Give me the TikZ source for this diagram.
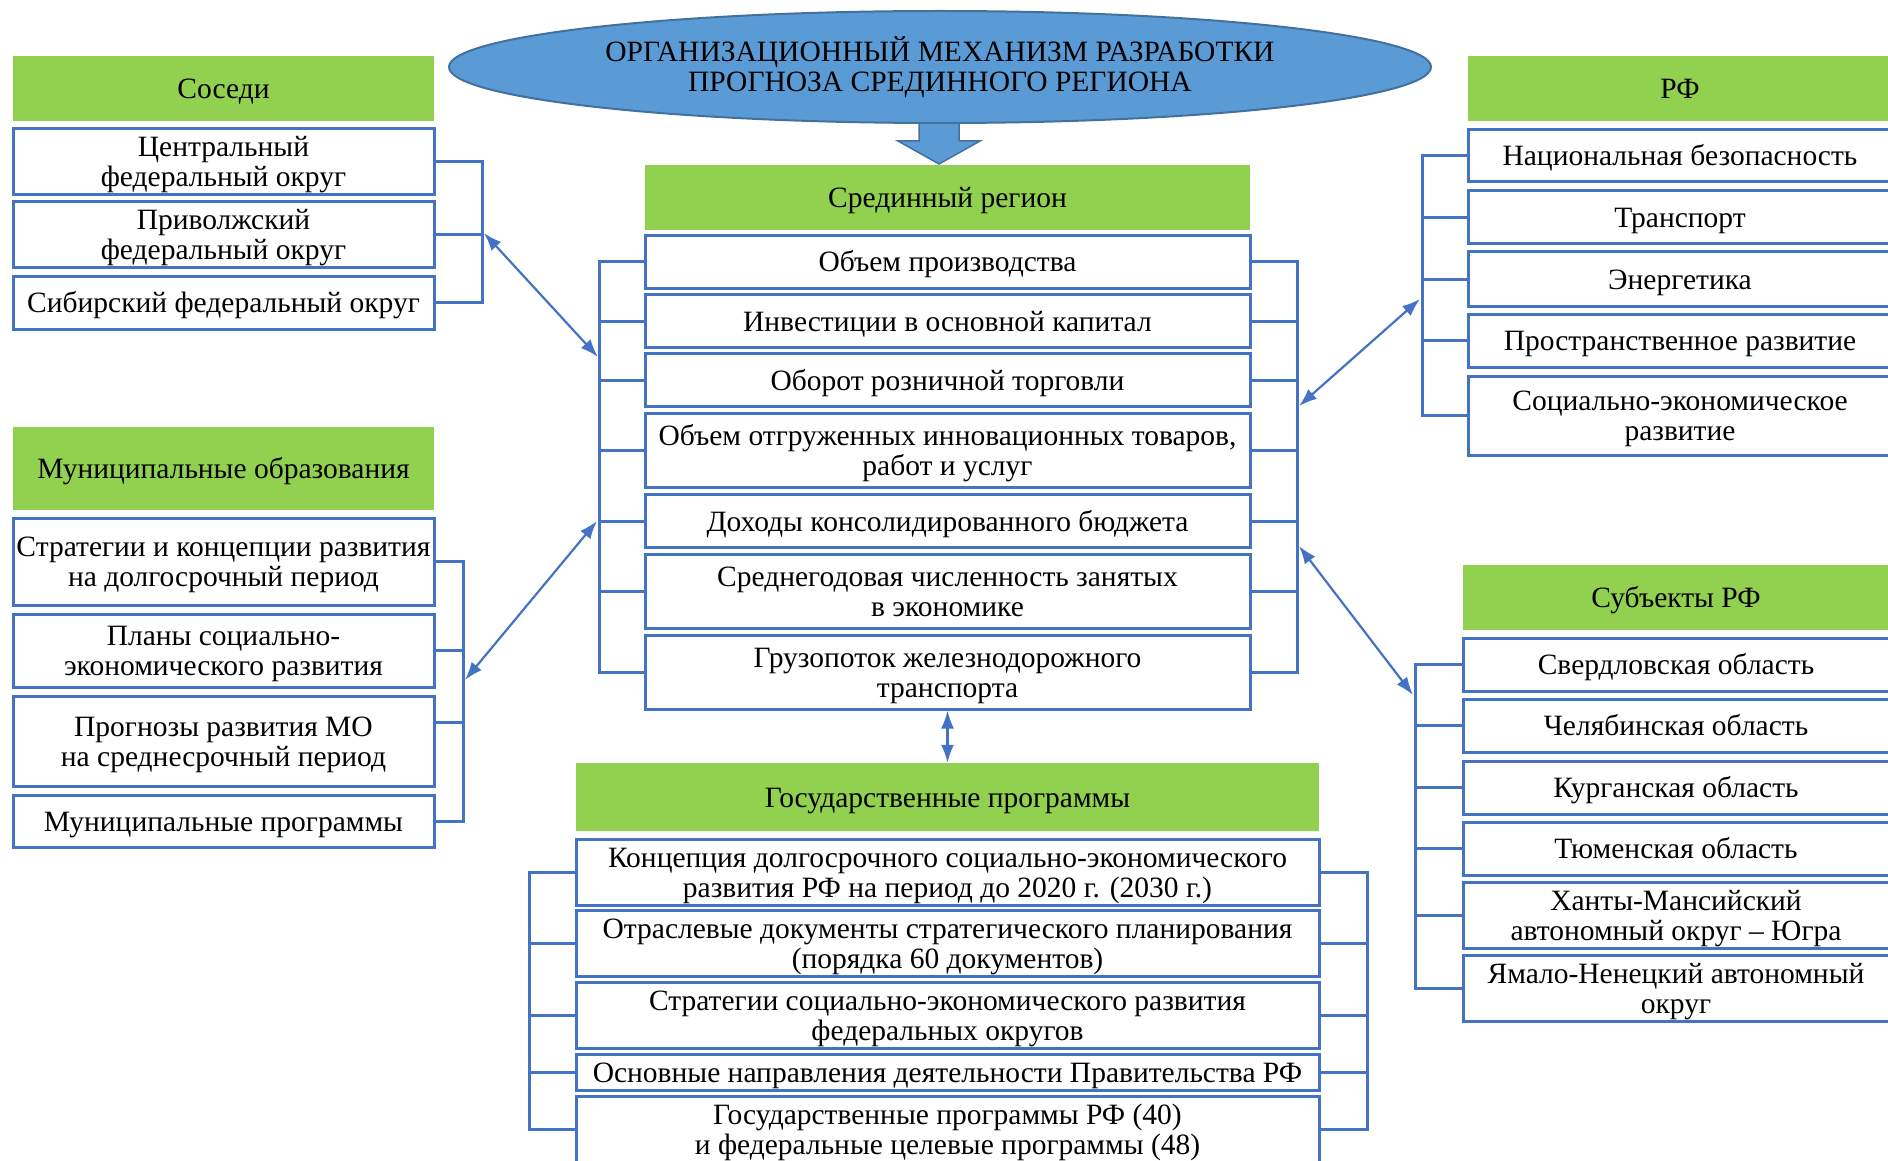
\documentclass[tikz,border=0pt]{standalone}
\usepackage{fontspec}
\setmainfont{Liberation Serif}
\usetikzlibrary{arrows.meta,shapes.geometric,calc}
\definecolor{hgreen}{HTML}{92D050}
\definecolor{bbd}{HTML}{4472C4}
\definecolor{efill}{HTML}{5B9BD5}
\definecolor{ebd}{HTML}{41719C}
\newcommand\mystrut{\rule{0pt}{28pt}}
\begin{document}
\begin{tikzpicture}[x=1pt,y=-1pt,
  every node/.style={font=\fontsize{29.5}{30}\selectfont, inner sep=0pt, align=center,
    execute at begin node={\rule{0pt}{28pt}},
    execute at end node={\rule[-8pt]{0pt}{8pt}}},
  hdr/.style={fill=hgreen, draw=none},
  itm/.style={fill=white, draw=bbd, line width=3pt},
  conn/.style={draw=bbd, line width=3pt},
  dbl/.style={draw=bbd, line width=2.2pt, {Latex[length=18pt,width=13pt]}-{Latex[length=18pt,width=13pt]}}
]
\useasboundingbox (0,0) rectangle (1888,1161);
\clip (0,0) rectangle (1888,1161);

% block arrow under the title
\draw[fill=efill, draw=ebd, line width=1.5pt] (919,105) -- (959,105) -- (959,141) -- (980,141) -- (939,164) -- (898,141) -- (919,141) -- cycle;
\node[ellipse, fill=efill, draw=ebd, line width=2pt, minimum width=982pt, minimum height=112pt] (title) at (940,67)
  {\mystrut ОРГАНИЗАЦИОННЫЙ МЕХАНИЗМ РАЗРАБОТКИ\\ПРОГНОЗА СРЕДИННОГО РЕГИОНА};

% Соседи
\node[hdr, minimum width=421pt, minimum height=65pt] (s0) at (223.5,88.5) {Соседи};
\node[itm, minimum width=421pt, minimum height=64pt] (s1) at (223.5,162) {\mystrut Центральный\\федеральный округ};
\node[itm, minimum width=421pt, minimum height=64pt] (s2) at (223.5,235) {\mystrut Приволжский\\федеральный округ};
\node[itm, minimum width=421pt, minimum height=53pt] (s3) at (223.5,302.5) {Сибирский федеральный округ};

% Муниципальные образования
\node[hdr, minimum width=421pt, minimum height=83pt] (m0) at (223.5,468.5) {Муниципальные образования};
\node[itm, minimum width=421pt, minimum height=87pt] (m1) at (223.5,561.5) {\mystrut Стратегии и концепции развития\\на долгосрочный период};
\node[itm, minimum width=421pt, minimum height=73pt] (m2) at (223.5,650.5) {\mystrut Планы социально-\\экономического развития};
\node[itm, minimum width=421pt, minimum height=90pt] (m3) at (223.5,741) {\mystrut Прогнозы развития МО\\на среднесрочный период};
\node[itm, minimum width=421pt, minimum height=52pt] (m4) at (223.5,821) {Муниципальные программы};

% Срединный регион
\node[hdr, minimum width=605pt, minimum height=65pt] (c0) at (947.5,197.5) {Срединный регион};
\node[itm, minimum width=605pt, minimum height=53pt] (c1) at (947.5,262) {Объем производства};
\node[itm, minimum width=605pt, minimum height=53pt] (c2) at (947.5,321) {Инвестиции в основной капитал};
\node[itm, minimum width=605pt, minimum height=53pt] (c3) at (947.5,380) {Оборот розничной торговли};
\node[itm, minimum width=605pt, minimum height=74pt] (c4) at (947.5,450) {\mystrut Объем отгруженных инновационных товаров,\\работ и услуг};
\node[itm, minimum width=605pt, minimum height=53pt] (c5) at (947.5,521) {Доходы консолидированного бюджета};
\node[itm, minimum width=605pt, minimum height=74pt] (c6) at (947.5,591) {\mystrut Среднегодовая численность занятых\\в экономике};
\node[itm, minimum width=605pt, minimum height=74pt] (c7) at (947.5,672) {\mystrut Грузопоток железнодорожного\\транспорта};

% РФ
\node[hdr, minimum width=424pt, minimum height=65pt] (r0) at (1680,88.5) {РФ};
\node[itm, minimum width=424pt, minimum height=52pt] (r1) at (1680,156) {Национальная безопасность};
\node[itm, minimum width=424pt, minimum height=53pt] (r2) at (1680,217.5) {Транспорт};
\node[itm, minimum width=424pt, minimum height=54pt] (r3) at (1680,279) {Энергетика};
\node[itm, minimum width=424pt, minimum height=53pt] (r4) at (1680,340.5) {Пространственное развитие};
\node[itm, minimum width=424pt, minimum height=79pt] (r5) at (1680,415.5) {\mystrut Социально-экономическое\\развитие};

% Субъекты РФ
\node[hdr, minimum width=426pt, minimum height=65pt] (f0) at (1676,597.5) {Субъекты РФ};
\node[itm, minimum width=426pt, minimum height=53pt] (f1) at (1676,664.5) {Свердловская область};
\node[itm, minimum width=426pt, minimum height=53pt] (f2) at (1676,725.5) {Челябинская область};
\node[itm, minimum width=426pt, minimum height=53pt] (f3) at (1676,787.5) {Курганская область};
\node[itm, minimum width=426pt, minimum height=53pt] (f4) at (1676,848.5) {Тюменская область};
\node[itm, minimum width=426pt, minimum height=63pt] (f5) at (1676,915.5) {\mystrut Ханты-Мансийский\\автономный округ – Югра};
\node[itm, minimum width=426pt, minimum height=64pt] (f6) at (1676,988) {\mystrut Ямало-Ненецкий автономный\\округ};

% Государственные программы
\node[hdr, minimum width=743pt, minimum height=68pt] (g0) at (947.5,797) {Государственные программы};
\node[itm, minimum width=743pt, minimum height=64pt] (g1) at (947.5,872) {\mystrut Концепция долгосрочного социально-экономического\\развития РФ на период до 2020 г. (2030 г.)};
\node[itm, minimum width=743pt, minimum height=65pt] (g2) at (947.5,943.5) {\mystrut Отраслевые документы стратегического планирования\\(порядка 60 документов)};
\node[itm, minimum width=743pt, minimum height=65pt] (g3) at (947.5,1015.5) {\mystrut Стратегии социально-экономического развития\\федеральных округов};
\node[itm, minimum width=743pt, minimum height=34pt] (g4) at (947.5,1072) {Основные направления деятельности Правительства РФ};
\node[itm, minimum width=743pt, minimum height=65pt] (g5) at (947.5,1129.5) {\mystrut Государственные программы РФ (40)\\и федеральные целевые программы (48)};

% bracket columns
\coordinate (sb) at (482,0);
\coordinate (mb) at (463,0);
\coordinate (cl) at (599,0);
\coordinate (cr) at (1297,0);
\coordinate (rb) at (1422,0);
\coordinate (fb) at (1415,0);
\coordinate (gl) at (529,0);
\coordinate (gr) at (1367,0);

% Соседи bracket
\draw[conn] (s1.east) -- (s1.east -| sb) -- (sb |- s3.east) -- (s3.east);
\draw[conn] (s2.east) -- (s2.east -| sb);
% Муниципальные bracket
\coordinate (m3t) at ($(m3.east)+(0,-19)$);
\draw[conn] (m1.east) -- (m1.east -| mb) -- (mb |- m4.east) -- (m4.east);
\draw[conn] (m2.east) -- (m2.east -| mb);
\draw[conn] (m3t) -- (m3t -| mb);
% Срединный brackets
\draw[conn] (c1.west) -- (c1.west -| cl) -- (cl |- c7.west) -- (c7.west);
\draw[conn] (c1.east) -- (c1.east -| cr) -- (cr |- c7.east) -- (c7.east);
\foreach \n in {c2,c3,c4,c5,c6}{
  \draw[conn] (\n.west) -- (\n.west -| cl);
  \draw[conn] (\n.east) -- (\n.east -| cr);
}
% РФ bracket
\draw[conn] (r1.west) -- (r1.west -| rb) -- (rb |- r5.west) -- (r5.west);
\foreach \n in {r2,r3,r4}{ \draw[conn] (\n.west) -- (\n.west -| rb); }
% Субъекты bracket
\draw[conn] (f1.west) -- (f1.west -| fb) -- (fb |- f6.west) -- (f6.west);
\foreach \n in {f2,f3,f4,f5}{ \draw[conn] (\n.west) -- (\n.west -| fb); }
% Государственные brackets
\draw[conn] (g1.west) -- (g1.west -| gl) -- (gl |- g5.west) -- (g5.west);
\draw[conn] (g1.east) -- (g1.east -| gr) -- (gr |- g5.east) -- (g5.east);
\foreach \n in {g2,g3,g4}{
  \draw[conn] (\n.west) -- (\n.west -| gl);
  \draw[conn] (\n.east) -- (\n.east -| gr);
}

% double arrows
\coordinate (a1s) at (484,233);
\coordinate (a1e) at (598,357);
\coordinate (a2s) at (465,680);
\coordinate (a2e) at (597,521);
\coordinate (a3s) at (1299,406);
\coordinate (a3e) at (1420,299);
\coordinate (a4s) at (1299,546);
\coordinate (a4e) at (1413,695);
\draw[dbl] (a1s) -- (a1e);
\draw[dbl] (a2s) -- (a2e);
\draw[dbl] (a3s) -- (a3e);
\draw[dbl] (a4s) -- (a4e);
\draw[dbl] (c7.south) -- (g0.north);
\end{tikzpicture}
\end{document}
